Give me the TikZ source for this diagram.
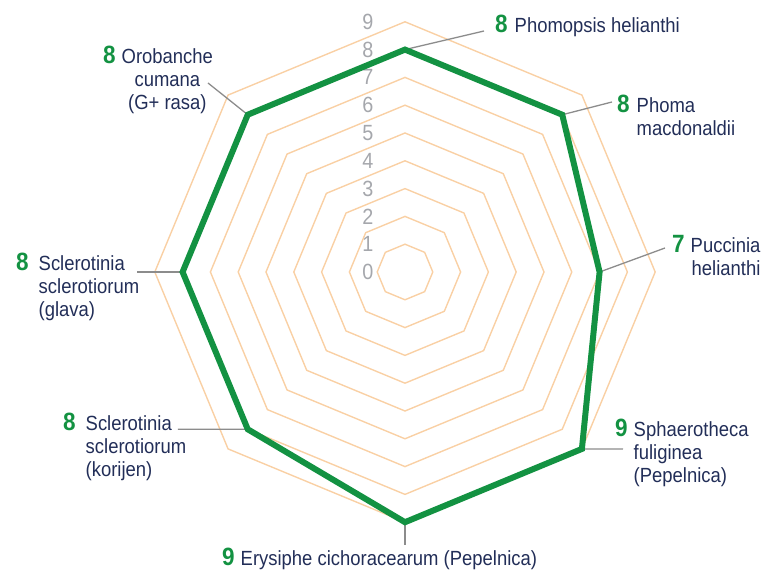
\documentclass[tikz,border=0pt]{standalone}
\usepackage{fontspec}
\setmainfont[FakeStretch=0.9]{Liberation Sans}

\definecolor{gridorange}{RGB}{249,208,164}
\definecolor{scoregreen}{RGB}{19,146,66}
\definecolor{labelnavy}{RGB}{34,46,88}
\definecolor{levelgray}{RGB}{165,167,172}
\definecolor{leadergray}{RGB}{140,140,140}

\newcommand{\unitr}{27.8}
\newcommand{\score}[1]{{\fontsize{25}{25}\selectfont\bfseries\color{scoregreen}#1}}

\begin{document}
\begin{tikzpicture}[x=1pt, y=1pt,
	gridline/.style={draw=gridorange, line width=1.4pt},
	scoreline/.style={draw=scoregreen, line width=6pt},
	leader/.style={draw=leadergray, line width=1.3pt},
	disease/.style={anchor=base west, inner sep=0pt, text=labelnavy, font=\fontsize{20.5}{23}\selectfont},
	levellabel/.style={text=levelgray, inner sep=0pt, font=\fontsize{22}{22}\selectfont}]
\useasboundingbox (-405,-300) rectangle (364,272);
	% grid octagons
	\foreach \r in {1,...,9}
		\draw[gridline] (0:{\r*\unitr}) \foreach \a in {45,90,...,315}{ -- (\a:{\r*\unitr})} -- cycle;
	% level numbers
	\foreach \r in {0,...,9}
		\node[levellabel] (lvl\r) at (-37, {\r*\unitr}) {\r};
	% score points
	\coordinate (phomopsis) at (90:{8*\unitr});
	\coordinate (phoma) at (45:{8*\unitr});
	\coordinate (puccinia) at (0:{7*\unitr});
	\coordinate (sphaerotheca) at (-45:{9*\unitr});
	\coordinate (erysiphe) at (-90:{9*\unitr});
	\coordinate (korijen) at (-135:{8*\unitr});
	\coordinate (glava) at (180:{8*\unitr});
	\coordinate (orobanche) at (135:{8*\unitr});
	% leader ends
	\coordinate (phomopsisend) at (79,241);
	\coordinate (phomaend) at (207,170);
	\coordinate (puccinaend) at (260,24);
	\coordinate (sphaerothecaend) at (218,-177);
	\coordinate (erysipheend) at (0,-273);
	\coordinate (korijenend) at (-227,-157.3);
	\coordinate (glavaend) at (-268,0);
	\coordinate (orobancheend) at (-197,189);
	% leaders
	\draw[leader] (phomopsis) -- (phomopsisend);
	\draw[leader] (phoma) -- (phomaend);
	\draw[leader] (puccinia) -- (puccinaend);
	\draw[leader] (sphaerotheca) -- (sphaerothecaend);
	\draw[leader] (erysiphe) -- (erysipheend);
	\draw[leader] (korijen) -- (korijenend);
	\draw[leader] (glava) -- (glavaend);
	\draw[leader] (orobanche) -- (orobancheend);
	% score line
	\draw[scoreline] (phomopsis) -- (phoma) -- (puccinia) -- (sphaerotheca) -- (erysiphe) -- (korijen) -- (glava) -- (orobanche) -- cycle;
	% labels
	\node[disease] (phomopsislbl) at (90,239) {\score{8}\hspace{7pt}Phomopsis helianthi};
	\node[disease] (phomalbl) at (212,159) {\score{8}\hspace{7pt}\begin{tabular}[t]{@{}l@{}}Phoma\\macdonaldii\end{tabular}};
	\node[disease] (puccinialbl) at (267,19) {\score{7}\hspace{6pt}\begin{tabular}[t]{@{}r@{}}Puccinia\\helianthi\end{tabular}};
	\node[disease] (sphaerothecalbl) at (210,-165) {\score{9}\hspace{6pt}\begin{tabular}[t]{@{}l@{}}Sphaerotheca\\fuliginea\\(Pepelnica)\end{tabular}};
	\node[disease] (erysiphelbl) at (-183,-294) {\score{9}\hspace{6pt}Erysiphe cichoracearum (Pepelnica)};
	\node[disease] (korijenlbl) at (-342,-159) {\score{8}\hspace{10pt}\begin{tabular}[t]{@{}l@{}}Sclerotinia\\sclerotiorum\\(korijen)\end{tabular}};
	\node[disease] (glavalbl) at (-389,1) {\score{8}\hspace{10pt}\begin{tabular}[t]{@{}l@{}}Sclerotinia\\sclerotiorum\\(glava)\end{tabular}};
	\node[disease] (orobanchelbl) at (-302,208) {\score{8}\hspace{6pt}\begin{tabular}[t]{@{}c@{}}Orobanche\\cumana\\(G+ rasa)\end{tabular}};
\end{tikzpicture}
\end{document}
